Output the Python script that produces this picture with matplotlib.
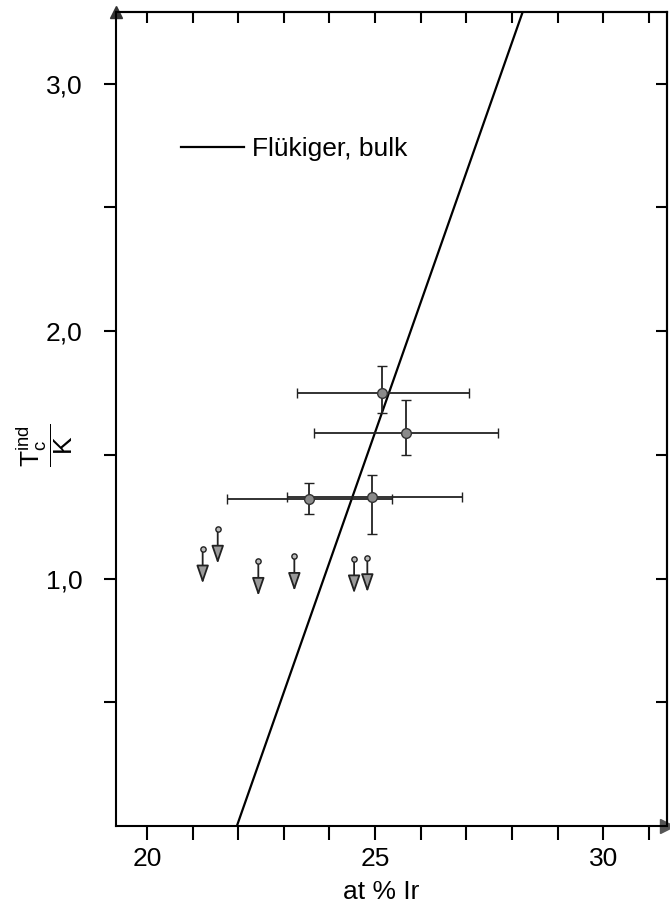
import matplotlib
matplotlib.use("Agg")
import matplotlib.pyplot as plt
from matplotlib import font_manager

# prefer a narrow sans face when one is installed
names = {f.name for f in font_manager.fontManager.ttflist}
mfont = 'Liberation Sans Narrow' if 'Liberation Sans Narrow' in names else 'Liberation Sans'
plt.rcParams['font.family'] = [mfont, 'DejaVu Sans']
plt.rcParams['mathtext.fontset'] = 'custom'
plt.rcParams['mathtext.rm'] = mfont
plt.rcParams['mathtext.it'] = mfont

# measured points with error bars (at % Ir, Tc in K)
pts_x = [25.15, 25.67, 23.56, 24.94]
pts_y = [1.75, 1.59, 1.32, 1.33]
x_lo = [23.28, 23.67, 21.76, 23.06]
x_hi = [27.05, 27.70, 25.38, 26.90]
y_lo = [1.67, 1.50, 1.26, 1.18]
y_hi = [1.86, 1.72, 1.385, 1.42]

# samples with only an upper limit for Tc
ul_x = [21.22, 21.55, 22.44, 23.23, 24.54, 24.83]
ul_y = [1.12, 1.20, 1.07, 1.09, 1.08, 1.085]

# Fluekiger bulk line
flk_x = [21.97, 28.35]
flk_T = [0.0, 3.35]

xticks = [20, 25, 30]
xticklabels = ["20", "25", "30"]
yticks = [1.0, 2.0, 3.0]
yticklabels = ["1,0", "2,0", "3,0"]

fs = 19

fig = plt.figure(figsize=(6.7, 9.11), dpi=100)
ax = fig.add_axes([116/670, 1 - 826/911, (667 - 116)/670, (826 - 12)/911])

ax.plot(flk_x, flk_T, color='black', lw=1.6, label='Flükiger, bulk', zorder=2)

xerr = [[x - lo for x, lo in zip(pts_x, x_lo)], [hi - x for x, hi in zip(pts_x, x_hi)]]
yerr = [[y - lo for y, lo in zip(pts_y, y_lo)], [hi - y for y, hi in zip(pts_y, y_hi)]]
ax.errorbar(pts_x, pts_y, xerr=xerr, yerr=yerr, fmt='o', ms=7, mfc='#8a8a8a',
            mec='#333333', mew=1.0, ecolor='#222222', elinewidth=1.3,
            capsize=3.5, capthick=1.3, zorder=3)

# upper limits: small circle with an arrow pointing down
arrow_len = 0.14
for x, y in zip(ul_x, ul_y):
    ax.annotate('', xy=(x, y - arrow_len), xytext=(x, y),
                arrowprops=dict(arrowstyle='-|>,head_length=1.1,head_width=0.38',
                                fc='#9a9a9a', ec='#222222', lw=1.3,
                                shrinkA=2, shrinkB=0))
    ax.plot(x, y, 'o', ms=3.8, mfc='#bbbbbb', mec='#222222', mew=1.0, zorder=4)

ax.set_xlim(19.32, 31.40)
ax.set_ylim(0.0, 3.29)

ax.set_xticks(xticks)
ax.set_xticklabels(xticklabels, fontsize=fs)
ax.set_xticks(range(20, 32), minor=True)
ax.set_yticks(yticks)
ax.set_yticklabels(yticklabels, fontsize=fs)
ax.set_yticks([0.5, 1.5, 2.5], minor=True)
ax.tick_params(axis='x', which='both', direction='out', length=10, width=1.5,
               pad=5, top=False)
ax.tick_params(axis='y', which='both', direction='out', length=9, width=1.5,
               pad=15, right=False)

top = ax.secondary_xaxis('top')
top.set_xticks(range(20, 32))
top.set_xticklabels([])
top.tick_params(direction='in', length=8, width=1.5)

right = ax.secondary_yaxis('right')
right.set_yticks([0.5, 1.0, 1.5, 2.0, 2.5, 3.0])
right.set_yticklabels([])
right.tick_params(direction='in', length=8, width=1.5)

for s in list(ax.spines.values()) + list(top.spines.values()) + list(right.spines.values()):
    s.set_linewidth(1.5)

# arrow heads on the axes ends
ax.plot(1, 0, '>', ms=10, color='#555555', transform=ax.transAxes, clip_on=False)
ax.plot(0, 1, '^', ms=8, color='#333333', transform=ax.transAxes, clip_on=False)

fig.text(381/670, 1 - 892/911, 'at % Ir', fontsize=fs, ha='center', va='center')
fig.text(45/670, 1 - 445/911, r'$\dfrac{\mathrm{T_c^{ind}}}{\mathrm{K}}$',
         rotation=90, fontsize=fs, ha='center', va='center')

ax.legend(loc='upper left', bbox_to_anchor=(0.118, 0.846), frameon=False,
          fontsize=fs, handlelength=2.4, handletextpad=0.3, borderpad=0,
          borderaxespad=0)

fig.savefig('out.png', dpi=100)
